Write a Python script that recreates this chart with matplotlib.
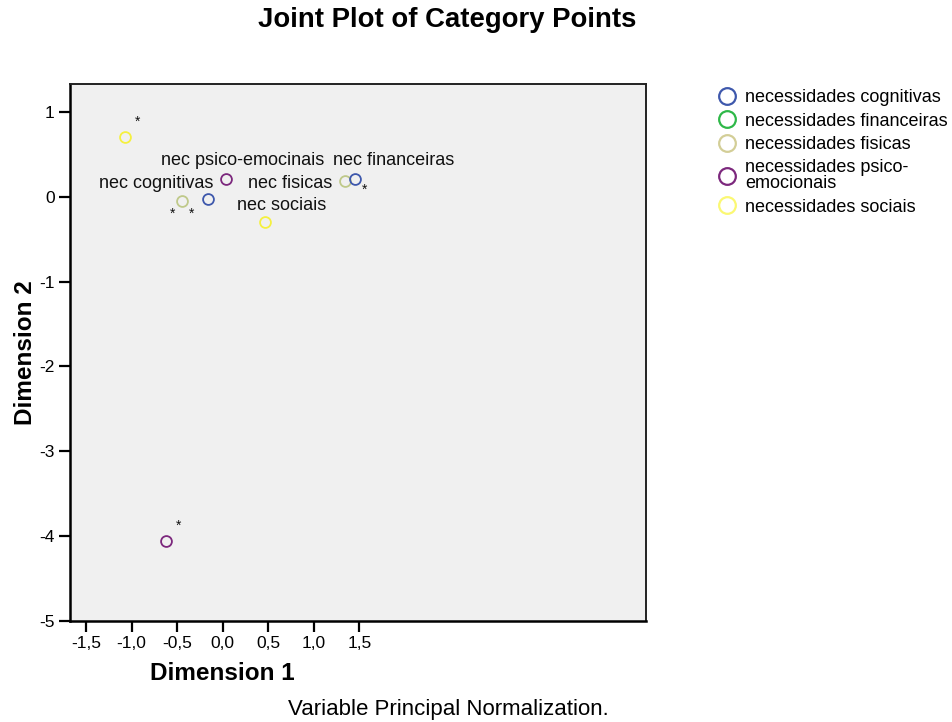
import matplotlib
matplotlib.use("Agg")
import matplotlib.pyplot as plt
from matplotlib.lines import Line2D
from matplotlib.ticker import FixedLocator, FuncFormatter

plt.rcParams['font.family'] = ['Liberation Sans', 'DejaVu Sans']

# Category quantifications per variable (Dimension 1, Dimension 2)
variables = ['necessidades cognitivas', 'necessidades financeiras',
             'necessidades fisicas', 'necessidades psico-\nemocionais',
             'necessidades sociais']
colors = ['#3E58AC', '#2EB848', '#D3CE97', '#7C287D', '#FBF873']
edge_colors = ['#3E58AC', '#2EB848', '#BFC98A', '#7C287D', '#F5F040']

dim1_cognitivas = [-0.157, 1.454]
dim2_cognitivas = [-0.020, 0.215]
dim1_financeiras = []
dim2_financeiras = []
dim1_fisicas = [-0.447, 1.346]
dim2_fisicas = [-0.047, 0.184]
dim1_psico = [0.033, -0.622]
dim2_psico = [0.215, -4.055]
dim1_sociais = [-1.072, 0.465]
dim2_sociais = [0.709, -0.294]

series_x = [dim1_cognitivas, dim1_financeiras, dim1_fisicas, dim1_psico, dim1_sociais]
series_y = [dim2_cognitivas, dim2_financeiras, dim2_fisicas, dim2_psico, dim2_sociais]

# Variable labels in the plot
label_texts = ['nec psico-emocinais', 'nec financeiras', 'nec cognitivas',
               'nec fisicas', 'nec sociais']
label_x = [-0.681, 1.211, -1.358, 0.278, 0.157]
label_y = [0.376, 0.376, 0.102, 0.102, -0.153]

# Asterisks flagging overlapping categories
star_x = [-0.933, -0.549, -0.340, 1.562, -0.480]
star_y = [0.882, -0.200, -0.200, 0.082, -3.882]

x_ticks = [-1.5, -1.0, -0.5, 0.0, 0.5, 1.0, 1.5]
y_ticks = [-5, -4, -3, -2, -1, 0, 1]

W, H = 952, 722
fig = plt.figure(figsize=(W / 100, H / 100), dpi=100)
fig.patch.set_facecolor('white')
ax = fig.add_axes([70 / W, 1 - 621 / H, 576 / W, 537 / H])
ax.set_facecolor('#F0F0F0')
ax.set_xlim(-1.676, 4.647)
ax.set_ylim(-5.0, 1.33)

for i in reversed(range(len(variables))):
    ax.plot(series_x[i], series_y[i], linestyle='none', marker='o',
            markersize=7.8, markerfacecolor='none',
            markeredgecolor=edge_colors[i], markeredgewidth=1.3, zorder=3)

for t, x, y in zip(label_texts, label_x, label_y):
    ax.text(x, y, t, fontsize=13, ha='left', va='baseline', color='#111111', zorder=4)

for x, y in zip(star_x, star_y):
    ax.text(x, y, '*', fontsize=10, ha='center', va='center', color='#111111', zorder=4)

ax.xaxis.set_major_locator(FixedLocator(x_ticks))
ax.yaxis.set_major_locator(FixedLocator(y_ticks))
ax.xaxis.set_major_formatter(FuncFormatter(lambda v, p: f"{v:.1f}".replace('.', ',')))
ax.yaxis.set_major_formatter(FuncFormatter(lambda v, p: f"{v:.0f}"))
ax.tick_params(axis='both', direction='out', length=8, width=1.6, labelsize=12.5,
               colors='black', pad=3)

for side in ['left', 'bottom']:
    ax.spines[side].set_linewidth(1.8)
    ax.spines[side].set_color('black')
for side in ['top', 'right']:
    ax.spines[side].set_linewidth(1.4)
    ax.spines[side].set_color('#222222')

ax.set_xlabel('Dimension 1', fontsize=17.5, fontweight='bold')
ax.xaxis.set_label_coords((222 - 70) / 576, (621 - 674) / 537)
ax.xaxis.label.set_va('center')
ax.set_ylabel('Dimension 2', fontsize=17.5, fontweight='bold')
ax.yaxis.set_label_coords((25 - 70) / 576, 0.5)
ax.yaxis.label.set_va('center')

fig.text(446.7 / W, 1 - 20 / H, 'Joint Plot of Category Points', fontsize=19.8,
         fontweight='bold', ha='center', va='center')
fig.text(448 / W, 1 - 709 / H, 'Variable Principal Normalization.', fontsize=16,
         ha='center', va='center')

handles = [Line2D([], [], linestyle='none', marker='o', markersize=12,
                  markerfacecolor='none', markeredgecolor=c, markeredgewidth=1.6)
           for c in colors]
leg = fig.legend(handles, variables, loc='upper left',
                 bbox_to_anchor=(718 / W, 1 - 89 / H), frameon=False, fontsize=13,
                 handlelength=1.0, handletextpad=0.5, labelspacing=0.36,
                 borderpad=0, borderaxespad=0)
for t in leg.get_texts():
    t.set_linespacing(0.9)

fig.savefig('out.png', dpi=100, facecolor='white')
